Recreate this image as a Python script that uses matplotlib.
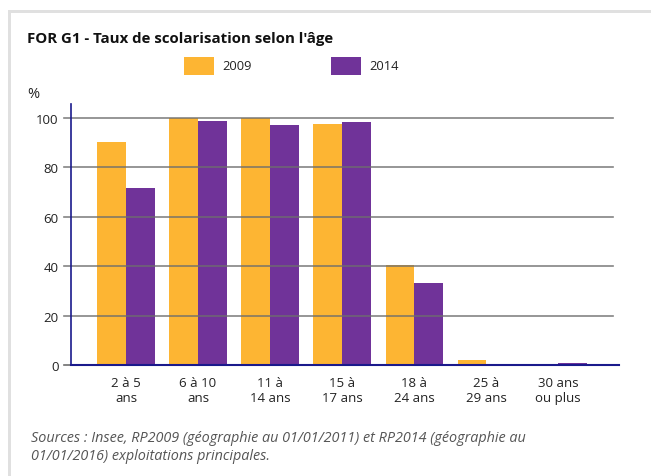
import matplotlib.pyplot as plt
import matplotlib.patches as mpatches
import numpy as np

plt.rcParams["font.family"] = ["Open Sans", "DejaVu Sans"]

# Data
categories = ["2 à 5\nans", "6 à 10\nans", "11 à\n14 ans", "15 à\n17 ans",
              "18 à\n24 ans", "25 à\n29 ans", "30 ans\nou plus"]
rate_2009 = [90.5, 100.0, 100.0, 97.6, 40.6, 2.1, 0.2]
rate_2014 = [71.8, 98.8, 97.3, 98.4, 33.3, 0.3, 0.7]
yticks = [0, 20, 40, 60, 80, 100]

c2009 = "#FDB533"
c2014 = "#703399"
navy = "#1a1a8c"
grid_col = "#6e6e6e"

W, H = 651, 477
fig = plt.figure(figsize=(W / 100, H / 100), dpi=100)

# card border
fig.add_artist(mpatches.Rectangle((8 / W, 0), 3 / W, 1 - 11 / H, transform=fig.transFigure,
                                  color="#e0e0e0", lw=0))
fig.add_artist(mpatches.Rectangle((8 / W, 1 - 14 / H), 1, 3 / H, transform=fig.transFigure,
                                  color="#e0e0e0", lw=0))

ax = fig.add_axes([71 / W, 1 - 366 / H, 548 / W, 261 / H])
x = np.arange(len(categories))
bw = 0.396
ax.bar(x - bw / 2, rate_2009, bw, color=c2009, zorder=2)
ax.bar(x + bw / 2, rate_2014, bw, color=c2014, zorder=2)

ax.set_xlim(-0.764, 6.847)
ax.set_ylim(0, 105.7)

# gridlines on top of the bars, running a little past the y axis
for v in yticks[1:]:
    ax.plot([-0.861, 6.764], [v, v], color=grid_col, lw=1.2, alpha=0.85,
            zorder=3, clip_on=False)
ax.plot([-0.861, -0.764], [0, 0], color=grid_col, lw=1.2, clip_on=False, zorder=3)

for s in ["top", "right"]:
    ax.spines[s].set_visible(False)
ax.spines["left"].set_color(navy)
ax.spines["bottom"].set_color(navy)
ax.spines["left"].set_linewidth(1.2)
ax.spines["bottom"].set_linewidth(1.5)
ax.spines["left"].set_zorder(4)
ax.spines["bottom"].set_zorder(4)

ax.set_yticks(yticks)
ax.set_yticklabels([str(v) for v in yticks], fontsize=9.5, color="#222222")
ax.tick_params(axis="y", length=0, pad=9)
ax.set_xticks(x)
ax.set_xticklabels(categories, fontsize=9.5, color="#222222", linespacing=1.2)
ax.tick_params(axis="x", length=0, pad=8)

# title, legend, unit
fig.text(27 / W, 1 - 43 / H, "FOR G1 - Taux de scolarisation selon l'âge",
         fontsize=10.8, fontweight="bold", color="#111111", va="baseline")
for px, col, lab in [(184, c2009, "2009"), (331, c2014, "2014")]:
    fig.add_artist(mpatches.Rectangle((px / W, 1 - 76 / H), 30 / W, 18 / H,
                                      transform=fig.transFigure, color=col, lw=0))
    fig.text((px + 38) / W, 1 - 67 / H, lab, fontsize=9.3, color="#222222", va="center")
fig.text(27 / W, 1 - 95 / H, "%", fontsize=10.5, color="#222222", va="center")

fig.text(31 / W, 1 - 439 / H,
         "Sources : Insee, RP2009 (géographie au 01/01/2011) et RP2014 (géographie au",
         fontsize=10.4, style="italic", color="#555555", va="center")
fig.text(31 / W, 1 - 457 / H, "01/01/2016) exploitations principales.",
         fontsize=10.4, style="italic", color="#555555", va="center")

fig.savefig("out.png", dpi=100)
